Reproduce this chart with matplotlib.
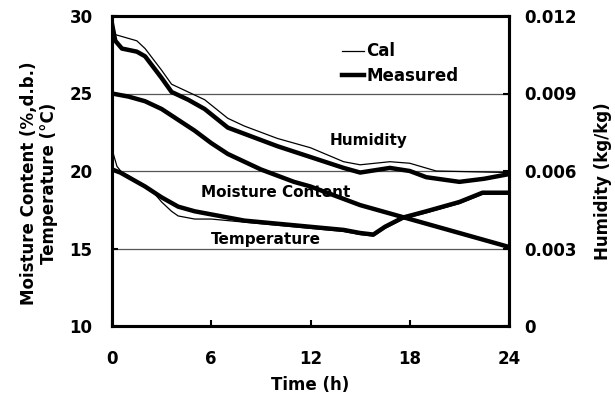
import matplotlib.pyplot as plt

plt.rcParams['font.family'] = ['DejaVu Sans']
plt.rcParams['font.weight'] = 'bold'

# humidity (kg/kg), right axis
hum_meas_t = [0, 0.2, 0.6, 1.5, 2, 2.5, 3, 3.6, 4.6, 5.6, 7, 8, 10, 12, 14, 15, 16.8, 18, 19, 21, 22.5, 24]
hum_meas = [0.0117, 0.01104, 0.01074, 0.01062, 0.01044, 0.01002, 0.0096, 0.00906, 0.00876, 0.0084,
            0.00768, 0.00744, 0.00696, 0.00654, 0.00612, 0.00594, 0.00612, 0.006, 0.00576, 0.00558,
            0.0057, 0.00588]
hum_cal_t = [0, 0.2, 1.5, 2, 2.5, 3, 3.6, 4.6, 5.6, 7, 8, 10, 12, 14, 15, 16.8, 18, 19.6, 24]
hum_cal = [0.01182, 0.01128, 0.01104, 0.01074, 0.01032, 0.0099, 0.00936, 0.00906, 0.00876, 0.00804,
           0.00774, 0.00726, 0.0069, 0.00636, 0.00624, 0.00636, 0.0063, 0.006, 0.00594]

# moisture content (%, d.b.)
mc_t = [0, 1, 2, 3, 4, 5, 6, 7, 8, 9, 10, 11, 12, 13, 14, 15, 16, 17, 18, 19, 20, 21, 22, 23, 24]
mc_meas = [25.0, 24.8, 24.5, 24.0, 23.3, 22.6, 21.8, 21.1, 20.6, 20.1, 19.7, 19.3, 19.0, 18.6, 18.2,
           17.8, 17.5, 17.2, 16.9, 16.6, 16.3, 16.0, 15.7, 15.4, 15.1]

# temperature (C)
temp_meas_t = [0, 0.5, 1, 2, 3, 4, 5, 6, 7, 8, 10, 12, 14, 15, 15.8, 16.5, 17.6, 19, 20, 21, 22.4, 24]
temp_meas = [20.1, 19.9, 19.6, 19.0, 18.3, 17.7, 17.4, 17.2, 17.0, 16.8, 16.6, 16.4, 16.2, 16.0,
             15.9, 16.4, 17.0, 17.4, 17.7, 18.0, 18.6, 18.6]
temp_cal_t = [0, 0.3, 0.6, 1, 2, 2.6, 3, 3.6, 4, 5, 6, 7, 8, 10, 12, 14, 15, 15.8, 16.5, 17.6, 19, 20, 21, 22.4, 24]
temp_cal = [21.4, 20.3, 19.9, 19.7, 19.0, 18.5, 18.0, 17.4, 17.1, 16.9, 16.9, 16.8, 16.7, 16.5, 16.3,
            16.1, 15.9, 15.8, 16.3, 16.9, 17.3, 17.6, 17.9, 18.5, 18.5]

W, H = 615, 403
fig = plt.figure(figsize=(W / 100, H / 100), dpi=100)
ax = fig.add_axes([112 / W, 1 - 326 / H, 397 / W, 310 / H])
ax2 = ax.twinx()

ax.set_xlim(0, 24)
ax.set_ylim(10, 30)
ax2.set_ylim(0, 0.012)

for v in [15, 20, 25]:
    ax.axhline(v, color='#555555', lw=0.9, zorder=1)

# measured = thick, calculated = thin
ax.plot(mc_t, mc_meas, color='black', lw=3.2, zorder=3)
ax.plot(temp_cal_t, temp_cal, color='black', lw=0.9, zorder=3)
ax.plot(temp_meas_t, temp_meas, color='black', lw=3.2, zorder=3)
ax2.plot(hum_cal_t, hum_cal, color='black', lw=0.9, label='Cal')
ax2.plot(hum_meas_t, hum_meas, color='black', lw=3.2, label='Measured')

ax.set_xticks([0, 6, 12, 18, 24])
ax.set_yticks([10, 15, 20, 25, 30])
ax2.set_yticks([0, 0.003, 0.006, 0.009, 0.012])
ax2.set_yticklabels(['0', '0.003', '0.006', '0.009', '0.012'])

ax.tick_params(axis='y', direction='in', length=4, width=1.5, labelsize=12, pad=14)
ax.tick_params(axis='x', direction='in', length=4, width=1.5, labelsize=12, pad=17)
ax2.tick_params(axis='y', direction='in', length=4, width=1.5, labelsize=12, pad=11)
for a in (ax, ax2):
    for s in a.spines.values():
        s.set_linewidth(2.2)

fig.text(310 / W, 1 - 385 / H, 'Time (h)', fontsize=12, fontweight='bold', ha='center', va='center')
fig.text(39 / W, 1 - 183 / H, 'Moisture Content (%,d.b.)\nTemperature (\u00b0C)', fontsize=12,
         fontweight='bold', ha='center', va='center', rotation=90, multialignment='center',
         linespacing=1.15)
fig.text(603 / W, 1 - 181 / H, 'Humidity (kg/kg)', fontsize=12, fontweight='bold',
         ha='center', va='center', rotation=90)

ax.text(15.5, 22.0, 'Humidity', fontsize=11, fontweight='bold', ha='center', va='center')
ax.text(9.9, 18.6, 'Moisture Content', fontsize=11, fontweight='bold', ha='center', va='center')
ax.text(9.3, 15.55, 'Temperature', fontsize=11, fontweight='bold', ha='center', va='center')

ax2.legend(loc='upper left', bbox_to_anchor=(0.58, 0.915), frameon=False, fontsize=12,
           handlelength=1.3, handletextpad=0.15, borderaxespad=0, borderpad=0, labelspacing=0.4)

fig.savefig('out.png', dpi=100)
